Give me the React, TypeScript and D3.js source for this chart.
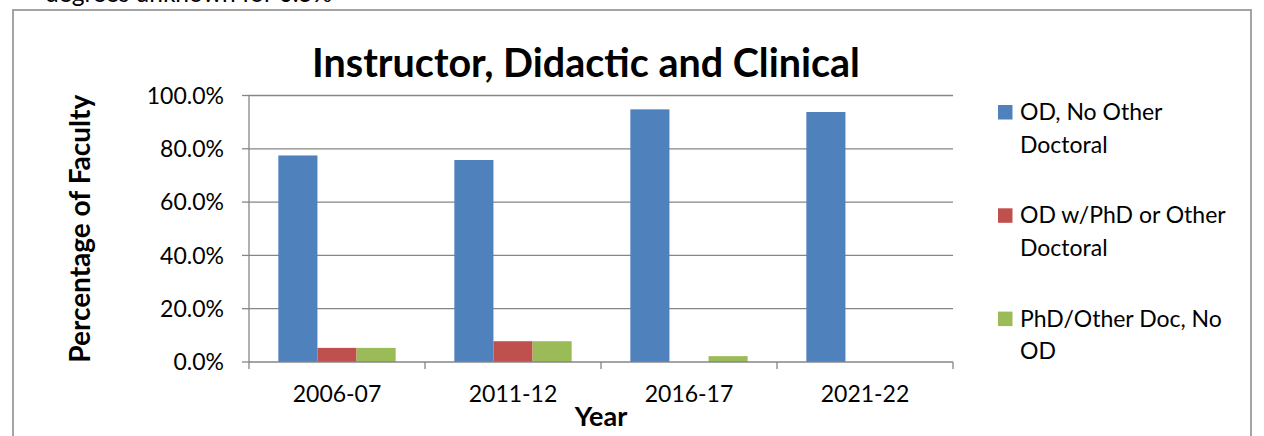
import * as d3 from 'd3';

const CATEGORIES = ['2006-07', '2011-12', '2016-17', '2021-22'];
const SERIES = ['OD, No Other Doctoral', 'OD w/PhD or Other Doctoral', 'PhD/Other Doc, No OD'];
// legend text split the way the picture wraps it
const LEGEND_LINES = [
  ['OD, No Other', 'Doctoral'],
  ['OD w/PhD or Other', 'Doctoral'],
  ['PhD/Other Doc, No', 'OD'],
];
const OD_ONLY = [77.5, 75.8, 94.8, 93.8];
const OD_PHD = [5.3, 7.8, 0, 0];
const PHD_ONLY = [5.3, 7.8, 2.2, 0];
const Y_TICKS = [0, 20, 40, 60, 80, 100];
const COLORS = ['#4F81BD', '#C0504D', '#9BBB59'];

const VALUES = [OD_ONLY, OD_PHD, PHD_ONLY];

const W = 1264;
const H = 436;
const FONT = 'Lato, Calibri, sans-serif';
const AXIS = '#868686';

export default function App() {
  const margin = { left: 249, right: 311, top: 95.5, bottom: 74 };
  const innerW = W - margin.left - margin.right;
  const innerH = H - margin.top - margin.bottom;

  const x0 = d3.scaleBand<string>().domain(CATEGORIES).range([0, innerW]).padding(0);
  const x1 = d3
    .scaleBand<number>()
    .domain(d3.range(SERIES.length))
    .range([0, x0.bandwidth()])
    .paddingInner(0)
    .paddingOuter(0.75);
  const y = d3.scaleLinear().domain([0, 100]).range([innerH, 0]);

  return (
    <div style={{ position: 'fixed', left: 0, top: 0, width: W, height: H, background: '#fff' }}>
      <svg width={W} height={H} style={{ display: 'block', fontFamily: FONT }}>
        {/* paragraph text above the chart, cut by the page top as in the source */}
        <text x={45} y={2} fontSize={24.5} fill="#000">
          degrees unknown for 0.5%
        </text>
        {/* chart frame */}
        <rect x={13} y={10} width={1238} height={440} fill="none" stroke={AXIS} strokeWidth={1.5} />

        <text
          x={586}
          y={77}
          textAnchor="middle"
          fontSize={39.5}
          fontWeight={700}
          fill="#000"
        >
          Instructor, Didactic and Clinical
        </text>

        <g transform={`translate(${margin.left},${margin.top})`}>
          {Y_TICKS.map((t) => (
            <g key={t}>
              {t > 0 && (
                <line x1={0} x2={innerW} y1={y(t)} y2={y(t)} stroke={AXIS} strokeWidth={1.3} />
              )}
              <line x1={-7} x2={0} y1={y(t)} y2={y(t)} stroke={AXIS} strokeWidth={1.3} />
              <text
                x={-25}
                y={y(t)}
                dy="0.36em"
                textAnchor="end"
                fontSize={23}
                fill="#000"
              >
                {`${t.toFixed(1)}%`}
              </text>
            </g>
          ))}

          {CATEGORIES.map((c, ci) => (
            <g key={c} transform={`translate(${x0(c)},0)`}>
              {VALUES.map((vals, si) => (
                <rect
                  key={si}
                  x={x1(si)}
                  y={y(vals[ci])}
                  width={x1.bandwidth()}
                  height={innerH - y(vals[ci])}
                  fill={COLORS[si]}
                />
              ))}
              <text
                x={x0.bandwidth() / 2}
                y={innerH + 39.5}
                textAnchor="middle"
                fontSize={23}
                fill="#000"
              >
                {c}
              </text>
            </g>
          ))}

          {/* axes */}
          <line x1={0} x2={0} y1={0} y2={innerH} stroke={AXIS} strokeWidth={1.3} />
          <line x1={0} x2={innerW} y1={innerH} y2={innerH} stroke={AXIS} strokeWidth={1.3} />
          {[...CATEGORIES.map((c) => x0(c) as number), innerW].map((tx, i) => (
            <line key={i} x1={tx} x2={tx} y1={innerH} y2={innerH + 7} stroke={AXIS} strokeWidth={1.3} />
          ))}

          <text
            x={innerW / 2}
            y={innerH + 64}
            textAnchor="middle"
            fontSize={27}
            fontWeight={700}
            fill="#000"
          >
            Year
          </text>
          <text
            transform={`translate(${-159},${innerH / 2}) rotate(-90)`}
            textAnchor="middle"
            fontSize={28}
            fontWeight={700}
            fill="#000"
          >
            Percentage of Faculty
          </text>
        </g>

        {/* legend */}
        {SERIES.map((s, i) => {
          const top = 105 + i * 103.3;
          return (
            <g key={s}>
              <rect x={998} y={top} width={14.5} height={14.5} fill={COLORS[i]} />
              {LEGEND_LINES[i].map((ln, li) => (
                <text key={li} x={1020} y={top + 15 + li * 32.6} fontSize={23} fill="#000">
                  {ln}
                </text>
              ))}
            </g>
          );
        })}
      </svg>
    </div>
  );
}
